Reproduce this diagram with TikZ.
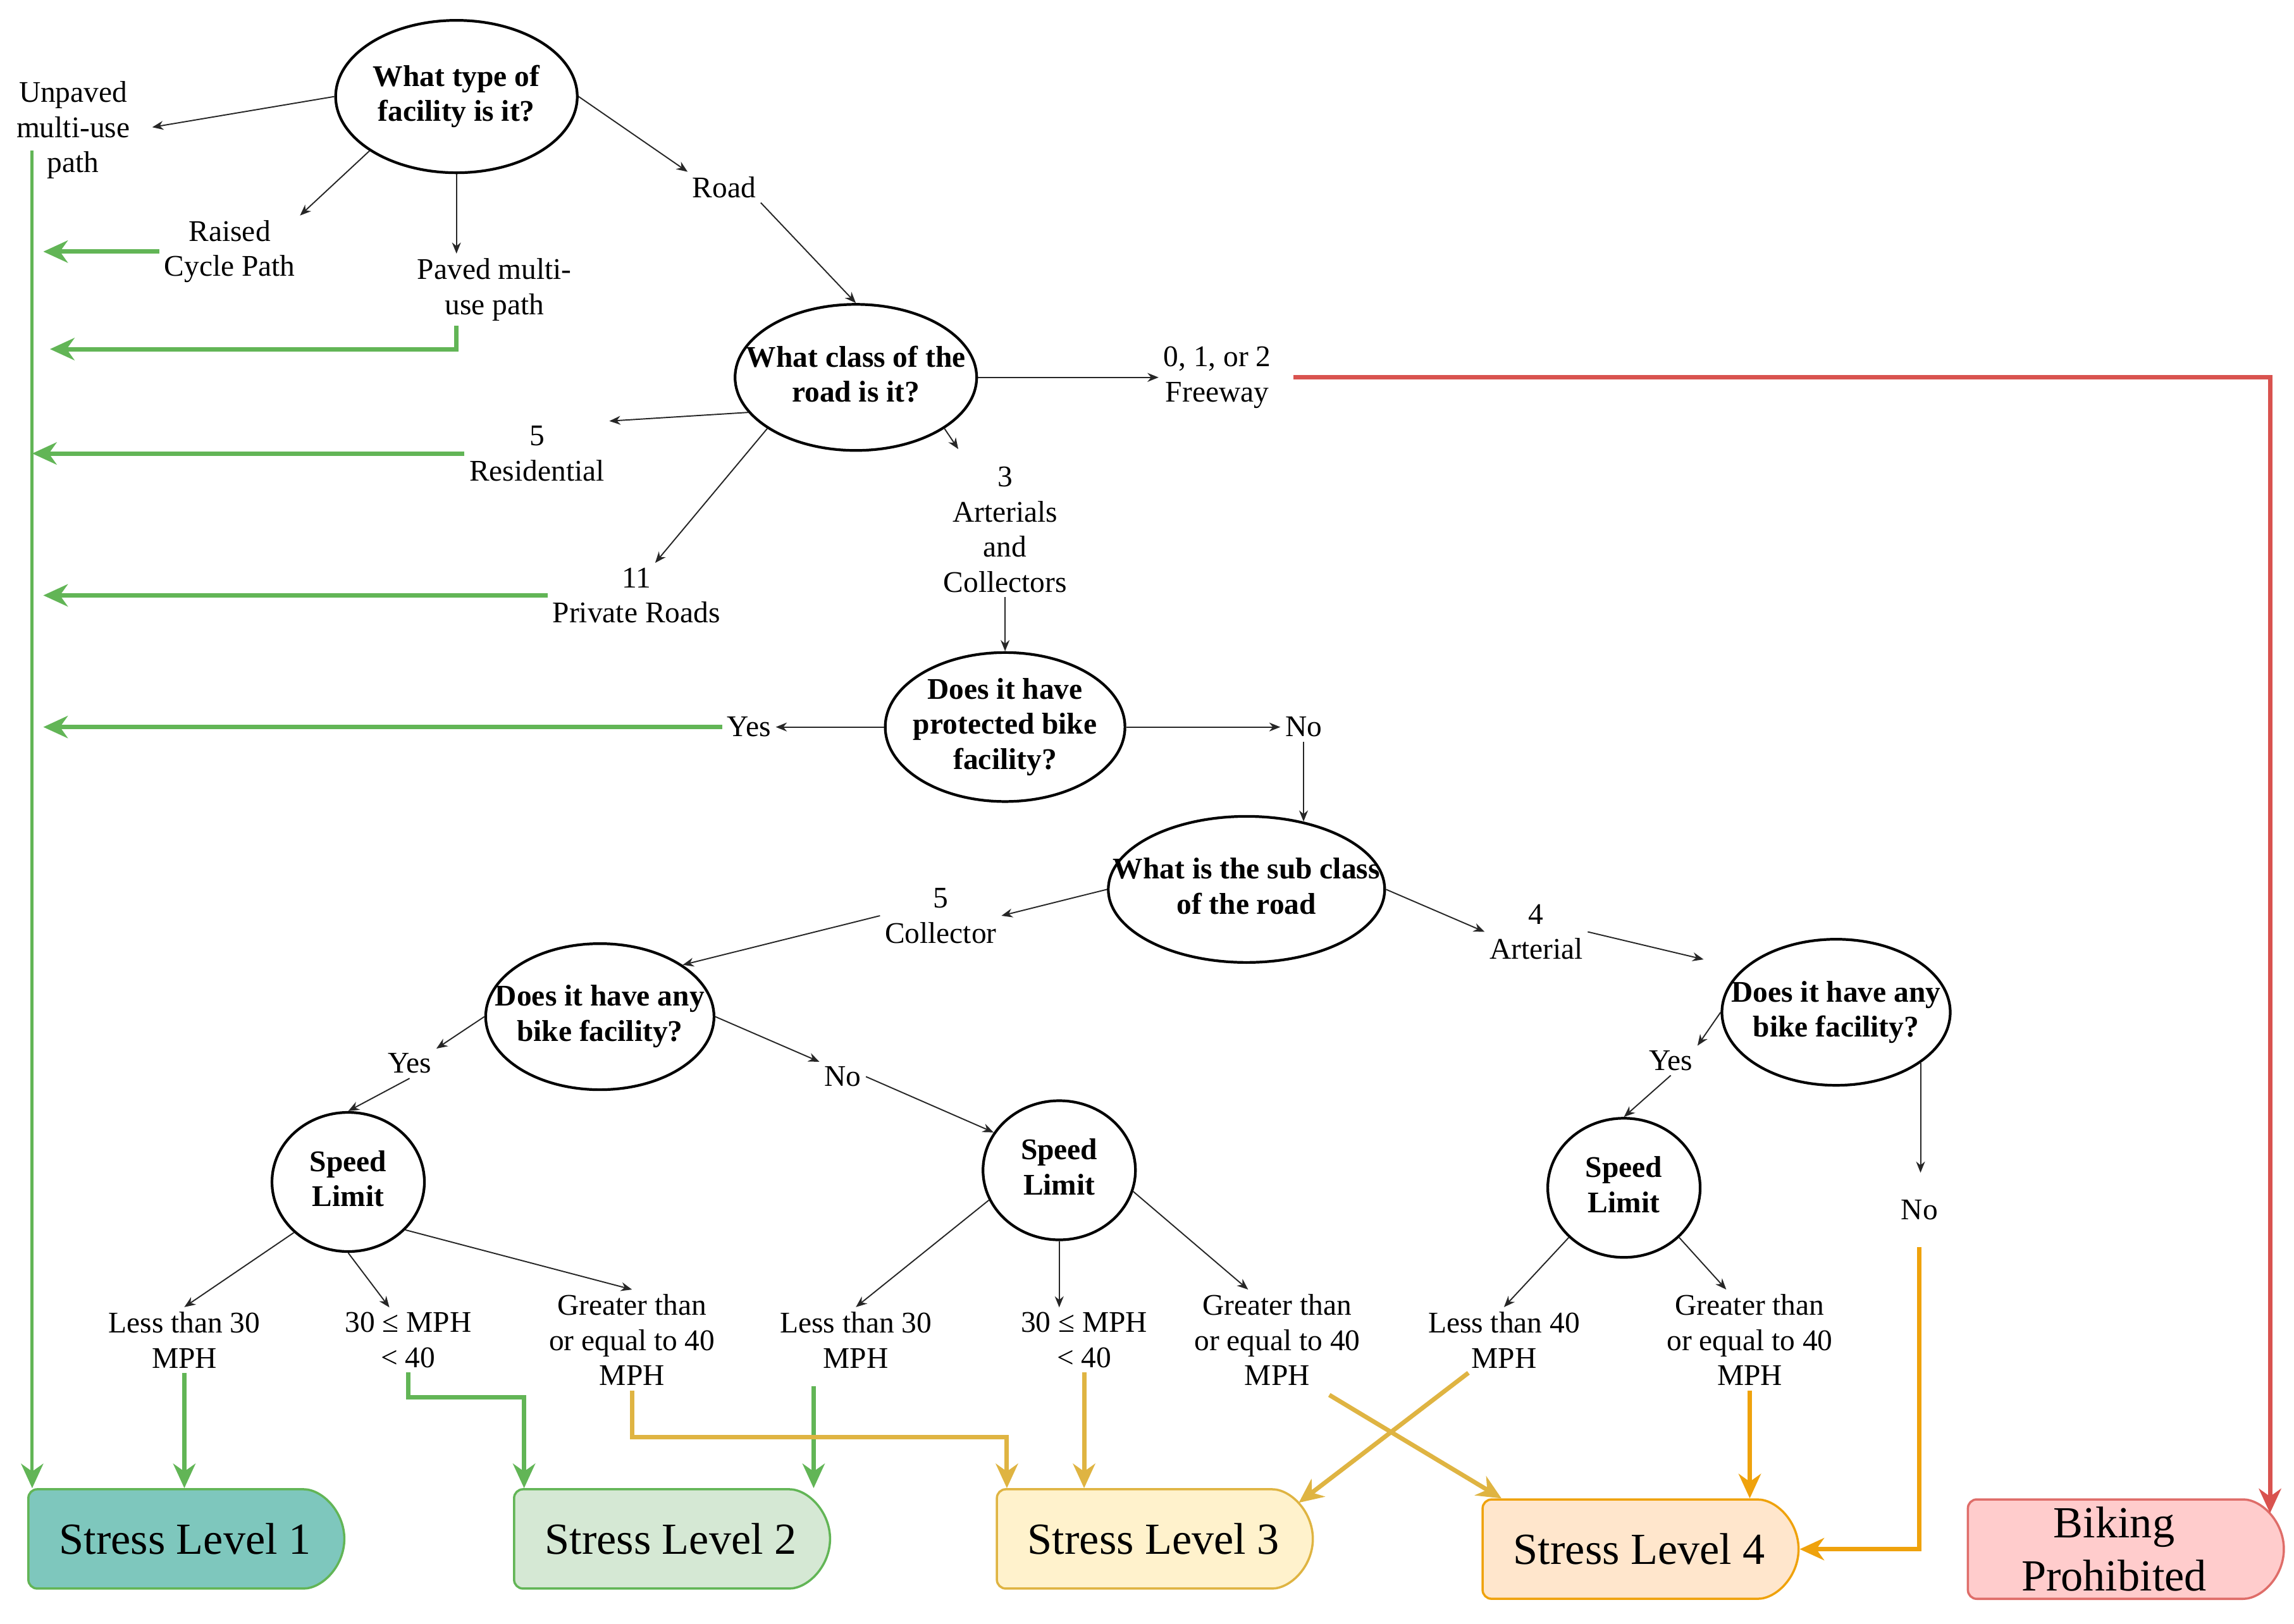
\documentclass[tikz,border=0pt]{standalone}
\usepackage{fontspec}
\setmainfont{Liberation Serif}
\usetikzlibrary{arrows.meta,shapes.geometric,shapes.misc}
\definecolor{grn}{HTML}{62B556}
\definecolor{ylw}{HTML}{DFB442}
\definecolor{org}{HTML}{EFA20C}
\definecolor{rd}{HTML}{D9534F}
\definecolor{fillA}{HTML}{7EC7BD}
\definecolor{fillB}{HTML}{D5E8D4}
\definecolor{fillC}{HTML}{FFF2CC}
\definecolor{fillD}{HTML}{FFE6CC}
\definecolor{fillE}{HTML}{FFCCCC}
\newcommand{\qbox}[1]{\makebox[0pt]{\begin{tabular}{@{}c@{}}#1\end{tabular}}}
\begin{document}
\begin{tikzpicture}[x=0.02313cm,y=-0.02313cm,>={Stealth[length=5pt,width=4pt]},
		every node/.style={font=\fontsize{13.5}{15.8}\selectfont},
		lbl/.style={align=center,inner sep=2pt},
		q/.style={ellipse,draw,line width=1.2pt,inner sep=0pt,font=\fontsize{13.5}{15.8}\selectfont\bfseries},
		blk/.style={->,black!85,line width=0.55pt},
		col/.style={line width=2pt,-{Stealth[length=11pt,width=10pt,inset=3.5pt]}},
		sl/.style={rounded rectangle,rounded rectangle left arc=none,rounded corners=4pt,minimum width=5.23cm,minimum height=1.57cm,line width=1pt,align=center,font=\fontsize{20}{24}\selectfont}]
		\useasboundingbox (0,0) rectangle (1568,1110);
		\node[q,minimum width=3.82cm,minimum height=2.41cm] (facility) at (312,66) {\qbox{What type of\\facility is it?}};
		\node[q,minimum width=3.82cm,minimum height=2.31cm] (class) at (585,258) {\qbox{What class of the\\road is it?}};
		\node[q,minimum width=3.79cm,minimum height=2.31cm] (prot) at (687,497) {\qbox{Does it have\\protected bike\\facility?}};
		\node[q,minimum width=4.37cm,minimum height=2.31cm] (sub) at (852,608) {\qbox{What is the sub class\\of the road}};
		\node[q,minimum width=3.61cm,minimum height=2.31cm] (bikeL) at (410,695) {\qbox{Does it have any\\bike facility?}};
		\node[q,minimum width=3.61cm,minimum height=2.31cm] (bikeR) at (1255,692) {\qbox{Does it have any\\bike facility?}};
		\foreach \n/\x/\y in {speedL/238/808,speedM/724/800,speedR/1110/812}
		\node[q,minimum width=2.41cm,minimum height=2.2cm] (\n) at (\x,\y) {\qbox{Speed\\Limit}};
		\node[lbl] (unpaved) at (50,89) {Unpaved\\multi-use\\path};
		\node[lbl] (raised) at (157,172) {Raised\\Cycle Path};
		\node[lbl] (paved) at (338,198) {Paved multi-\\use path};
		\node[lbl] (road) at (495,128) {Road};
		\node[lbl] (freeway) at (832,258) {0, 1, or 2\\Freeway};
		\node[lbl] (resid) at (367,310) {5\\Residential};
		\node[lbl] (private) at (435,407) {11\\Private Roads};
		\node[lbl] (arter) at (687,362) {3\\Arterials\\and\\Collectors};
		\node[lbl] (yesA) at (512,497) {Yes};
		\node[lbl] (noA) at (891,497) {No};
		\node[lbl] (collect) at (643,626) {5\\Collector};
		\node[lbl] (arterial) at (1050,637) {4\\Arterial};
		\node[lbl] (yesB) at (280,727) {Yes};
		\node[lbl] (noB) at (576,736) {No};
		\node[lbl] (yesC) at (1142,725) {Yes};
		\node[lbl] (noC) at (1312,827) {No};
		\foreach \n/\x/\t in {lt30a/126/{Less than 30\\MPH},mid30a/279/{30 ≤ MPH\\< 40},ge40a/432/{Greater than\\or equal to 40\\MPH},lt30b/585/{Less than 30\\MPH},mid30b/741/{30 ≤ MPH\\< 40},ge40b/873/{Greater than\\or equal to 40\\MPH},lt40/1028/{Less than 40\\MPH},ge40c/1196/{Greater than\\or equal to 40\\MPH}}
		\node[lbl] (\n) at (\x,916) {\t};
		\node[sl,fill=fillA,draw=grn] (sl1) at (126.5,1052) {Stress Level 1};
		\node[sl,fill=fillB,draw=grn] (sl2) at (458.5,1052) {Stress Level 2};
		\node[sl,fill=fillC,draw=ylw] (sl3) at (788.5,1052) {Stress Level 3};
		\node[sl,fill=fillD,draw=org] (sl4) at (1120.5,1059) {Stress Level 4};
		\node[sl,fill=fillE,draw=rd!85] (bp) at (1445,1059) {Biking\\Prohibited};
		\coordinate (trunk) at (22,103);
		\coordinate (artertip) at (655,307);
		\draw[blk,shorten >=8pt] (facility.west) -- (unpaved.east);
		\draw[blk] (facility.212) -- (raised.north east);
		\draw[blk] (facility.south) -- (facility.south |- paved.north);
		\draw[blk] (facility.east) -- (road.north west);
		\draw[blk] (road.south east) -- (class.north);
		\draw[blk] (class.198) -- (resid.north east);
		\draw[blk] (class.210) -- (private.60);
		\draw[blk] (class.east) -- (freeway.west);
		\draw[blk] (class.-30) -- (artertip);
		\draw[blk] (arter.south) -- (prot.north);
		\draw[blk] (prot.west) -- (yesA.east);
		\draw[blk] (prot.east) -- (noA.west);
		\draw[blk] (noA.south) -- (noA.south |- sub.50);
		\draw[blk] (sub.west) -- (collect.east);
		\draw[blk] (sub.east) -- (arterial.west);
		\draw[blk] (collect.west) -- (bikeL.32);
		\draw[blk,shorten >=18pt] (arterial.east) -- (bikeR.155);
		\draw[blk] (bikeL.west) -- (yesB.north east);
		\draw[blk] (yesB.south) -- (speedL.north);
		\draw[blk] (bikeL.east) -- (noB.north west);
		\draw[blk] (noB.east) -- (speedM.150);
		\draw[blk] (bikeR.west) -- (yesC.north east);
		\draw[blk] (yesC.south) -- (speedR.north);
		\draw[blk,shorten >=10pt] (bikeR.-31) -- (bikeR.-31 |- noC.north);
		\draw[blk] (speedL.223) -- (lt30a.north);
		\draw[blk] (speedL.south) -- (mid30a.120);
		\draw[blk] (speedL.-40) -- (ge40a.north);
		\draw[blk] (speedM.203) -- (lt30b.north);
		\draw[blk] (speedM.south) -- (speedM.south |- mid30b.north);
		\draw[blk] (speedM.-16) -- (ge40b.120);
		\draw[blk] (speedR.222) -- (lt40.north);
		\draw[blk] (speedR.-42) -- (ge40c.115);
		\draw[col,grn,line width=1.4pt] (trunk) -- (trunk |- sl1.north);
		\draw[col,grn,shorten >=5pt] (raised.west) -- (raised.west -| trunk);
		\path (facility.south |- paved.south) ++(0,16) coordinate (pavedbend);
		\draw[col,grn,shorten >=8pt] (facility.south |- paved.south) -- (pavedbend) -- (pavedbend -| trunk);
		\draw[col,grn] (resid.west) -- (resid.west -| trunk);
		\draw[col,grn,shorten >=5pt] (private.west) -- (private.west -| trunk);
		\draw[col,grn,shorten >=5pt] (yesA.west) -- (yesA.west -| trunk);
		\draw[col,grn] (lt30a.south) -- (lt30a.south |- sl1.north);
		\draw[col,grn] (mid30a.south) -- ++(0,17) -| ([xshift=5pt]sl2.north west);
		\draw[col,grn,shorten <=6pt] ([xshift=-19pt]lt30b.south) -- ([xshift=-19pt]lt30b.south |- sl2.north);
		\draw[col,ylw] (ge40a.south) -- ++(0,32) -| ([xshift=5pt]sl3.north west);
		\draw[col,ylw] (mid30b.south) -- (mid30b.south |- sl3.north);
		\draw[col,ylw,shorten <=4pt] ([xshift=20pt]ge40b.south) -- ([xshift=9pt]sl4.north west);
		\draw[col,ylw] ([xshift=-16pt]lt40.south) -- (sl3.14);
		\draw[col,org] (ge40c.south) -- (ge40c.south |- sl4.north);
		\draw[col,org,shorten <=10pt] (noC.south) |- (sl4.east);
		\draw[col,rd,shorten <=8pt] (freeway.east) -| (bp.13);
\end{tikzpicture}
\end{document}
